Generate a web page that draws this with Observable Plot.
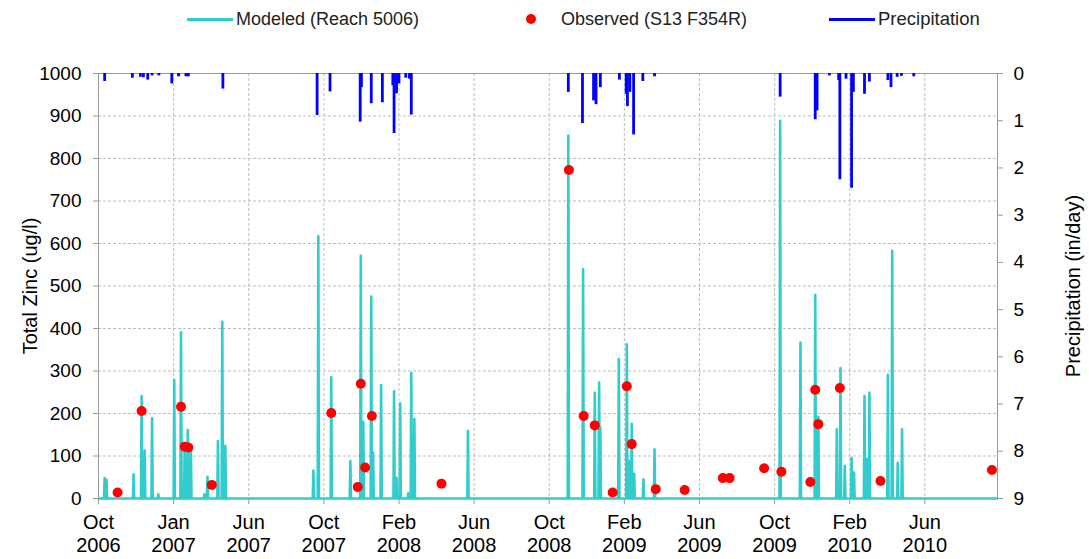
<!DOCTYPE html>
<html><head><meta charset="utf-8">
<script src="https://cdn.jsdelivr.net/npm/d3@7"></script>
<script src="https://cdn.jsdelivr.net/npm/@observablehq/plot@0.6"></script>
<style>
body{margin:0;background:#fff;font-family:"Liberation Sans",Arial,sans-serif;}
#legend{position:relative;height:38px;width:1089px;font-size:18px;color:#222;}
.txt{position:absolute;top:8px;line-height:22px;white-space:nowrap}
.sw{position:absolute}
</style></head><body>
<div id="legend">
  <div class="sw" style="left:187px;top:18px;width:46px;height:3px;background:#33CCCC"></div>
  <div class="txt" style="left:236px">Modeled (Reach 5006)</div>
  <div class="sw" style="left:526px;top:14px;width:10px;height:10px;border-radius:5px;background:#FF0000"></div>
  <div class="txt" style="left:561px">Observed (S13 F354R)</div>
  <div class="sw" style="left:829px;top:18px;width:46px;height:3px;background:#0000FF"></div>
  <div class="txt" style="left:878px;font-size:18.5px">Precipitation</div>
</div>
<div id="chart"></div>
<script>
// Modeled (Reach 5006) peaks, ug/l
const modeledDates = ["2006-10-11","2006-10-14","2006-11-27","2006-12-10","2006-12-15","2006-12-27","2007-01-06","2007-02-01","2007-02-12","2007-02-18","2007-02-23","2007-02-28","2007-03-22","2007-03-27","2007-04-13","2007-04-20","2007-04-25",
"2007-09-15","2007-09-23","2007-10-14","2007-11-14","2007-12-01","2007-12-05","2007-12-18","2007-12-21","2008-01-03","2008-01-24","2008-01-28","2008-02-03","2008-02-16","2008-02-21","2008-02-26","2008-05-23",
"2008-11-02","2008-11-26","2008-12-15","2008-12-22","2008-12-24","2009-01-23","2009-02-05","2009-02-09","2009-02-13","2009-02-17","2009-03-04","2009-03-22",
"2009-10-12","2009-11-14","2009-12-08","2009-12-13","2010-01-12","2010-01-18","2010-01-25","2010-02-05","2010-02-09","2010-02-26","2010-03-02","2010-03-06","2010-04-05","2010-04-12","2010-04-21","2010-04-28"];
const modeledValues = [48,44,57,241,113,189,10,279,391,128,161,120,10,51,135,416,124,
66,617,285,88,571,180,475,108,267,252,49,224,12,296,187,159,
854,540,249,273,167,328,363,88,176,58,45,116,
889,367,479,192,163,307,77,96,61,241,93,249,291,583,84,163];

// Observed (S13 F354R), ug/l
const observedDates = ["2006-11-01","2006-12-10","2007-02-12","2007-02-18","2007-02-24","2007-04-03","2007-10-14","2007-11-26","2007-12-01","2007-12-08","2007-12-19","2008-04-10","2008-11-03","2008-11-27","2008-12-15","2009-01-13","2009-02-05","2009-02-13","2009-03-24","2009-05-10","2009-07-11","2009-07-22","2009-09-16","2009-10-14","2009-11-30","2009-12-08","2009-12-13","2010-01-17","2010-03-24","2010-09-21"];
const observedValues = [14,206,216,122,120,32,201,27,270,73,194,35,773,194,172,14,264,128,22,20,48,48,71,63,39,256,175,260,41,67];

// Precipitation, in/day
const precipDates = ["2006-10-11","2006-11-25","2006-12-08","2006-12-13","2006-12-20","2006-12-27","2007-01-07","2007-01-28","2007-02-08","2007-02-20","2007-02-24","2007-04-21",
"2007-09-21","2007-10-12","2007-11-30","2007-12-02","2007-12-18","2008-01-05","2008-01-22","2008-01-24","2008-01-28","2008-02-01","2008-02-12","2008-02-18","2008-02-21",
"2008-11-02","2008-11-25","2008-12-13","2008-12-17","2008-12-24","2009-01-24","2009-02-04","2009-02-06","2009-02-10","2009-02-16","2009-03-03","2009-03-22",
"2009-10-12","2009-12-08","2009-12-11","2009-12-31","2010-01-15","2010-01-17","2010-01-27","2010-02-05","2010-02-08","2010-02-26","2010-03-06","2010-04-05","2010-04-10","2010-04-20","2010-04-27","2010-05-17"];
const precipValues = [0.17,0.1,0.08,0.09,0.14,0.05,0.05,0.22,0.07,0.07,0.07,0.33,
0.89,0.39,1.03,0.3,0.64,0.62,0.26,1.27,0.43,0.22,0.1,0.12,0.88,
0.4,1.06,0.58,0.66,0.3,0.14,0.44,0.7,0.4,1.3,0.17,0.07,
0.5,0.98,0.79,0.05,0.15,2.25,0.12,2.43,0.4,0.44,0.18,0.15,0.3,0.08,0.06,0.07];

const xTickDates = ["2006-10-01","2007-01-31","2007-06-02","2007-10-02","2008-02-01","2008-06-02","2008-10-02","2009-02-01","2009-06-03","2009-10-03","2010-02-02","2010-06-04"];
const zincTicks = [0,100,200,300,400,500,600,700,800,900,1000];
const precipTicks = [0,1,2,3,4,5,6,7,8,9];
const xDomain = ["2006-10-01","2010-09-30"];
const zincMax = 1000, precipMax = 9;

const parse = d3.utcParse("%Y-%m-%d");
const DAY = 864e5;

// modeled line: baseline at zero with peaks
let modeled = [];
modeledDates.forEach((d, i) => {
  const t = parse(d);
  modeled.push({date: new Date(+t - DAY), v: 0});
  modeled.push({date: t, v: modeledValues[i]});
  modeled.push({date: new Date(+t + DAY), v: 0});
});
modeled.push({date: parse(xDomain[0]), v: 0}, {date: parse(xDomain[1]), v: 0});
modeled.sort((a, b) => a.date - b.date);

const observed = observedDates.map((d, i) => ({date: parse(d), v: observedValues[i]}));
const toZ = p => zincMax - p * zincMax / precipMax;
const precip = precipDates.map((d, i) => ({date: parse(d), p: precipValues[i]}));

const grid = {stroke: "#bdbdbd", strokeOpacity: 1, strokeDasharray: "3,2"};

const chart = Plot.plot({
  width: 1089,
  height: 521,
  marginTop: 35,
  marginBottom: 61,
  marginLeft: 98,
  marginRight: 92,
  style: {fontFamily: "'Liberation Sans', Arial, sans-serif", fontSize: "19px", color: "#000", background: "#fff"},
  x: {type: "utc", domain: xDomain.map(parse)},
  y: {domain: [0, zincMax]},
  marks: [
    Plot.gridY(zincTicks, grid),
    Plot.gridX(xTickDates.map(parse), grid),
    Plot.frame({stroke: "#9a9a9a"}),
    Plot.axisY(zincTicks, {anchor: "left", tickSize: 5, tickPadding: 12, stroke: "#9a9a9a", fontSize: 19,
      tickFormat: d => String(d), label: null}),
    Plot.axisY({anchor: "left", ticks: [], label: "Total Zinc (ug/l)", labelAnchor: "center", labelArrow: "none", labelOffset: 76, fontSize: 20}),
    Plot.axisY(precipTicks.map(toZ), {anchor: "right", tickSize: 5, tickPadding: 11, stroke: "#9a9a9a", fontSize: 19,
      tickFormat: d => String(Math.round((zincMax - d) * precipMax / zincMax)), label: null}),
    Plot.axisY({anchor: "right", ticks: [], label: "Precipitation (in/day)", labelAnchor: "center", labelArrow: "none", labelOffset: 82, fontSize: 20}),
    Plot.axisX(xTickDates.map(parse), {tickSize: 6, tickPadding: 8, stroke: "#9a9a9a", fontSize: 20, lineHeight: 1.15,
      tickFormat: d3.utcFormat("%b\n%Y"), label: null}),
    Plot.ruleX(precip, {x: "date", y1: zincMax, y2: d => toZ(d.p), stroke: "#0000FF", strokeWidth: 2.8}),
    Plot.line(modeled, {x: "date", y: "v", stroke: "#33CCCC", strokeWidth: 2.6}),
    Plot.dot(observed, {x: "date", y: "v", r: 5, fill: "#FF0000", stroke: "none"})
  ]
});
document.getElementById("chart").appendChild(chart);
</script>
</body></html>
